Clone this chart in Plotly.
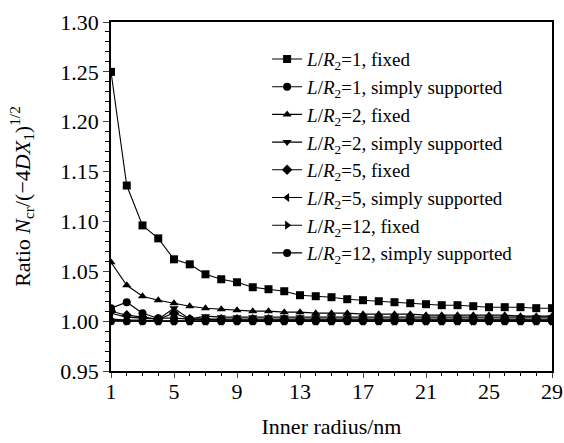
import plotly.graph_objects as go

inner_radius = list(range(1, 30))

l1_fixed = [1.250, 1.136, 1.096, 1.083, 1.062, 1.057, 1.047, 1.042, 1.039, 1.034,
            1.032, 1.030, 1.026, 1.025, 1.024, 1.022, 1.021, 1.020, 1.019, 1.018,
            1.017, 1.016, 1.016, 1.015, 1.014, 1.014, 1.014, 1.013, 1.013]
l1_ss = [1.013, 1.019, 1.008, 1.003, 1.003, 1.002, 1.002, 1.001, 1.001, 1.001,
         1.001, 1.001, 1.001, 1.001, 1.001, 1.001, 1.001, 1.001, 1.001, 1.001,
         1.001, 1.001, 1.001, 1.001, 1.001, 1.001, 1.001, 1.001, 1.001]
l2_fixed = [1.059, 1.036, 1.025, 1.021, 1.018, 1.015, 1.013, 1.012, 1.011, 1.010,
            1.010, 1.009, 1.009, 1.008, 1.008, 1.008, 1.007, 1.007, 1.007, 1.007,
            1.006, 1.006, 1.006, 1.006, 1.006, 1.006, 1.005, 1.005, 1.005]
l2_ss = [1.008, 1.004, 1.003, 1.002, 1.013, 1.002, 1.005, 1.004, 1.004, 1.004,
         1.004, 1.004, 1.004, 1.004, 1.004, 1.004, 1.004, 1.004, 1.004, 1.004,
         1.004, 1.004, 1.004, 1.004, 1.004, 1.004, 1.004, 1.004, 1.004]
l5_fixed = [1.010, 1.006, 1.004, 1.002, 1.008, 1.002, 1.002, 1.002, 1.002, 1.002,
            1.002, 1.002, 1.002, 1.002, 1.002, 1.002, 1.002, 1.002, 1.002, 1.002,
            1.002, 1.002, 1.002, 1.002, 1.002, 1.002, 1.002, 1.002, 1.002]
l5_ss = [1.002, 1.001, 1.001, 1.000, 1.000, 1.000, 1.000, 1.000, 1.000, 1.000,
         1.000, 1.000, 1.000, 1.000, 1.000, 1.000, 1.000, 1.000, 1.000, 1.000,
         1.000, 1.000, 1.000, 1.000, 1.000, 1.000, 1.000, 1.000, 1.000]
l12_fixed = [1.001, 1.000, 1.000, 1.000, 1.000, 1.000, 1.000, 1.000, 1.000, 1.000,
             1.000, 1.000, 1.000, 1.000, 1.000, 1.000, 1.000, 1.000, 1.000, 1.000,
             1.000, 1.000, 1.000, 1.000, 1.000, 1.000, 1.000, 1.000, 1.000]
l12_ss = [1.000] * 29

series = [
    ("<i>L</i>/<i>R</i><sub>2</sub>=1, fixed", l1_fixed, "square"),
    ("<i>L</i>/<i>R</i><sub>2</sub>=1, simply supported", l1_ss, "circle"),
    ("<i>L</i>/<i>R</i><sub>2</sub>=2, fixed", l2_fixed, "triangle-up"),
    ("<i>L</i>/<i>R</i><sub>2</sub>=2, simply supported", l2_ss, "triangle-down"),
    ("<i>L</i>/<i>R</i><sub>2</sub>=5, fixed", l5_fixed, "diamond"),
    ("<i>L</i>/<i>R</i><sub>2</sub>=5, simply supported", l5_ss, "triangle-left"),
    ("<i>L</i>/<i>R</i><sub>2</sub>=12, fixed", l12_fixed, "triangle-right"),
    ("<i>L</i>/<i>R</i><sub>2</sub>=12, simply supported", l12_ss, "circle"),
]

FONT = "Liberation Serif, Times New Roman, serif"

fig = go.Figure()
for name, vals, sym in series:
    fig.add_trace(go.Scatter(
        x=inner_radius, y=vals, name=name, mode="lines+markers",
        line=dict(color="black", width=1.1),
        marker=dict(symbol=sym, size=8, color="black"),
    ))

fig.update_layout(
    width=564, height=443,
    margin=dict(l=111, r=12, t=22, b=72),
    paper_bgcolor="white", plot_bgcolor="white",
    font=dict(family=FONT, size=19, color="black"),
    showlegend=True,
    legend=dict(x=0.354, y=0.948, xanchor="left", yanchor="top",
                bgcolor="rgba(0,0,0,0)", font=dict(size=19, family=FONT),
                tracegroupgap=0, itemwidth=30),
)
fig.update_xaxes(
    range=[1, 29], tick0=1, dtick=4, ticks="outside", ticklen=5, tickwidth=1.2,
    showline=True, linecolor="black", linewidth=1.5, mirror=True,
    showgrid=False, zeroline=False, automargin=False, ticklabelstandoff=-5,
    tickfont=dict(size=22, family=FONT),
    minor=dict(dtick=1, tick0=1, ticks="outside", ticklen=3, tickcolor="black", showgrid=False),
    title=dict(text="Inner radius/nm", font=dict(size=22, family=FONT)),
)
fig.update_yaxes(
    range=[0.95, 1.30], tick0=0.95, dtick=0.05, tickformat=".2f",
    ticks="outside", ticklen=6, tickwidth=1.2,
    showline=True, linecolor="black", linewidth=1.5, mirror=True,
    showgrid=False, zeroline=False, automargin="left",
    tickfont=dict(size=22, family=FONT),
    minor=dict(dtick=0.01, ticks="outside", ticklen=4, tickcolor="black", showgrid=False),
    title=dict(text="Ratio <i>N</i><sub>cr</sub>/(−4<i>DX</i><sub>1</sub>)<sup>1/2</sup>",
               font=dict(size=22, family=FONT), standoff=24),
)

fig.write_html("out.html", default_width="564px", default_height="443px",
               config={"displayModeBar": False},
               post_script="document.body.style.margin='0';document.body.style.overflow='hidden';")
